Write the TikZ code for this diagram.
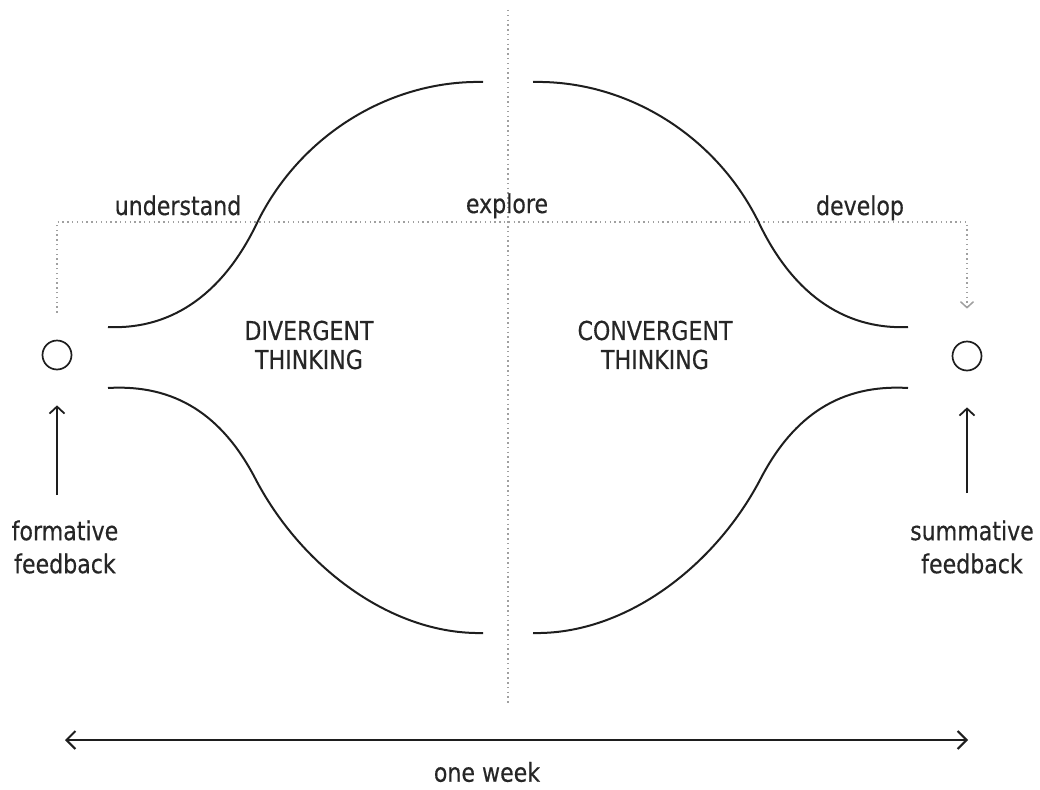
\documentclass[tikz,border=0pt]{standalone}
\usepackage{fontspec}
\setmainfont[FakeStretch=0.85, FakeBold=0.4]{DejaVu Sans}
\usetikzlibrary{arrows.meta}

\definecolor{ink}{HTML}{1E1E1E}
\definecolor{txt}{HTML}{262626}
\definecolor{dots}{HTML}{A0A0A0}

\tikzset{
  curve/.style={ink, line width=2pt},
  guide/.style={dots, line width=1.5pt, dash pattern=on 1.5pt off 3.3pt},
  word/.style={txt, font=\fontsize{26}{31}\selectfont, inner sep=0pt},
  ring/.style={circle, draw=ink, line width=1.7pt, minimum size=29pt, inner sep=0pt},
  uparrow/.style={ink, line width=1.8pt, -{Straight Barb[length=7pt,width=15pt]}},
  span/.style={ink, line width=2pt, {Straight Barb[length=9pt,width=18pt]}-{Straight Barb[length=9pt,width=18pt]}}
}

\begin{document}
\begin{tikzpicture}[x=1pt, y=-1pt]

  \useasboundingbox (0,0) rectangle (1040,789);

  % the middle line
  \coordinate (vtop) at (508,10);
  \coordinate (vbot) at (508,705);
  \draw[guide] (vtop) -- (vbot);

  % start and end of the week
  \node[ring] (lcirc) at (57,355) {};
  \node[ring] (rcirc) at (967,356) {};

  % dotted path over the phases
  \coordinate (gmid) at (508,222);
  \draw[guide, shorten <=27pt, shorten >=32pt, -{Straight Barb[length=6pt,width=13pt]}]
     (lcirc.north) |- (gmid) -| (rcirc.north);

  \node[word, anchor=base] (und) at (178,215) {understand};
  \node[word, anchor=base] (expl) at (507,213) {explore};
  \node[word, anchor=base] (dev) at (860,215) {develop};

  % the two halves of the diamond
  \draw[curve] (108,327) .. controls (175,330) and (225,290) .. (257,223)
               .. controls (300,135) and (390,80) .. (483,82);
  \draw[curve] (108,388) .. controls (175,384) and (222,415) .. (255,478)
               .. controls (300,565) and (390,635) .. (483,633);
  \draw[curve] (908,327) .. controls (841,330) and (791,290) .. (759,223)
               .. controls (716,135) and (626,80) .. (533,82);
  \draw[curve] (908,388) .. controls (841,384) and (794,415) .. (761,478)
               .. controls (716,565) and (626,635) .. (533,633);

  \node[word, align=center, font=\fontsize{26}{29}\selectfont] (div) at (309,345) {DIVERGENT\\THINKING};
  \node[word, align=center, font=\fontsize{26}{29}\selectfont] (conv) at (655,345) {CONVERGENT\\THINKING};

  % feedback
  \node[word, align=center, font=\fontsize{26}{33}\selectfont] (form) at (65,547) {formative\\feedback};
  \node[word, align=center, font=\fontsize{26}{33}\selectfont] (summ) at (972,547) {summative\\feedback};
  \coordinate (ltail) at (57,495);
  \coordinate (rtail) at (967,493);
  \draw[uparrow, shorten >=35pt] (ltail) -- (lcirc);
  \draw[uparrow, shorten >=36pt] (rtail) -- (rcirc);

  % time line
  \coordinate (wl) at (65,740);
  \coordinate (wr) at (968,740);
  \draw[span] (wl) -- (wr);
  \node[word] (week) at (487,772) {one week};

\end{tikzpicture}
\end{document}
